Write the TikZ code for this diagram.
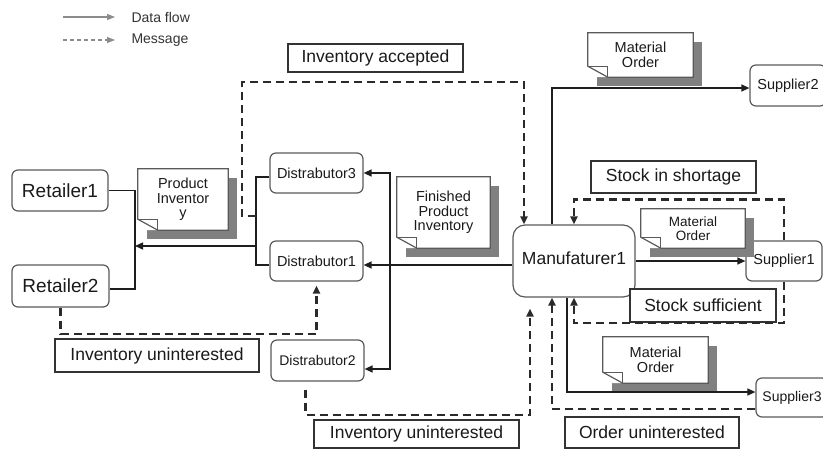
\documentclass[tikz,border=0pt]{standalone}
\usepackage{fontspec}
\setmainfont{Liberation Sans}
\usepackage{tikz}
\usetikzlibrary{shapes,arrows.meta,positioning,calc,shadows}

\definecolor{boxline}{HTML}{5A5A5A}
\definecolor{lblline}{HTML}{333333}
\definecolor{lineblk}{HTML}{1E1E1E}
\definecolor{dashcol}{HTML}{2A2A2A}
\definecolor{docshadow}{HTML}{808080}
\definecolor{txt}{HTML}{1A1A1A}
\definecolor{leggray}{HTML}{8C8C8C}

\newcommand{\fs}[1]{\fontsize{#1}{#1}\selectfont}

% folded corner of a document node
\newcommand{\docfold}[1]{%
  \fill[white] (#1.south west) -- ([yshift=11pt]#1.south west) -- ([xshift=20pt]#1.south west) -- cycle;
  \draw[docline] ([yshift=11pt]#1.south west) -- (#1.north west) -- (#1.north east)
    -- (#1.south east) -- ([xshift=20pt]#1.south west) -- cycle;
  \draw[docline] ([yshift=11pt]#1.south west) -- ([shift={(20pt,11pt)}]#1.south west)
    -- ([xshift=20pt]#1.south west);}

\tikzset{
  ent/.style={draw=boxline, line width=1.2pt, rounded corners=6pt, fill=white,
    inner sep=0pt, text=txt},
  lbl/.style={draw=lblline, line width=1.3pt, fill=white, inner sep=0pt,
    font=\fs{17.5}, text=txt},
  doc/.style={fill=white, inner sep=0pt, align=center, text=txt,
    drop shadow={shadow xshift=9pt, shadow yshift=-9pt, fill=docshadow, opacity=1}},
  docline/.style={draw=boxline, line width=1.2pt},
  link/.style={draw=lineblk, line width=1.3pt},
  flow/.style={link, -{Triangle[length=8pt,width=7pt]}},
  msg/.style={draw=dashcol, line width=2.2pt, dash pattern=on 8pt off 5pt,
    -{Triangle[length=8pt,width=7pt]}},
}

\begin{document}
\begin{tikzpicture}[x=1pt, y=-1pt]
    \useasboundingbox (0,0) rectangle (823,450);
    \clip (0,0) rectangle (823,450);

    % legend
    \coordinate (legA1) at (63,17);  \coordinate (legA2) at (115,17);
    \coordinate (legB1) at (63,40);  \coordinate (legB2) at (115,40);
    \draw[draw=leggray, line width=1.2pt, -{Triangle[length=8pt,width=6pt]}] (legA1) -- (legA2);
    \draw[draw=leggray, line width=1.2pt, dash pattern=on 4pt off 3pt,
      -{Triangle[length=8pt,width=6pt]}] (legB1) -- (legB2);
    \node[anchor=west, font=\fs{14}, text=lblline] (legflow) at (128,17) {Data flow};
    \node[anchor=west, font=\fs{14}, text=lblline] (legmsg) at (128,40) {Message};

    % entities
    \node[ent, minimum width=96pt, minimum height=41pt, font=\fs{19}] (ret1) at (60,190.5) {Retailer1};
    \node[ent, minimum width=97pt, minimum height=42pt, font=\fs{19}] (ret2) at (60.5,286) {Retailer2};
    \node[ent, minimum width=93pt, minimum height=40pt, font=\fs{14.5}] (dis3) at (316.5,173) {Distrabutor3};
    \node[ent, minimum width=93pt, minimum height=40pt, font=\fs{14.5}] (dis1) at (316.5,261) {Distrabutor1};
    \node[ent, minimum width=93pt, minimum height=41pt, font=\fs{14}] (dis2) at (317.5,360.5) {Distrabutor2};
    \node[ent, rounded corners=12pt, minimum width=122pt, minimum height=72pt, font=\fs{17.5}]
      (man) at (574,261) {\raisebox{6pt}{Manufaturer1}};
    \node[ent, minimum width=76pt, minimum height=41pt, font=\fs{14.5}] (sup2) at (788,85.5) {Supplier2};
    \node[ent, minimum width=76pt, minimum height=40pt, font=\fs{14.5}] (sup1) at (784,261) {Supplier1};
    \node[ent, minimum width=72pt, minimum height=39pt, font=\fs{14}] (sup3) at (792,397.5) {Supplier3};

    % documents
    \node[doc, minimum width=90pt, minimum height=61pt, font=\fs{14.5}] (pinv) at (183,199.5)
      {Product\\Inventor\\y};
    \docfold{pinv}
    \node[doc, minimum width=93pt, minimum height=71pt, font=\fs{14.5}] (finv) at (443.5,212.5)
      {Finished\\Product\\Inventory};
    \docfold{finv}
    \node[doc, minimum width=105pt, minimum height=44pt, font=\fs{14.5}] (mord1) at (640.5,55)
      {Material\\Order};
    \docfold{mord1}
    \node[doc, minimum width=104pt, minimum height=39pt, font=\fs{13.5}] (mord2) at (693,228.5)
      {Material\\Order};
    \docfold{mord2}
    \node[doc, minimum width=105pt, minimum height=46pt, font=\fs{14.5}] (mord3) at (655.5,360)
      {Material\\Order};
    \docfold{mord3}

    % message labels
    \node[lbl, minimum width=175pt, minimum height=28pt] (lacc) at (375.5,58) {Inventory accepted};
    \node[lbl, minimum width=165pt, minimum height=32pt] (lshort) at (673.5,177) {Stock in shortage};
    \node[lbl, minimum width=146pt, minimum height=33pt] (lsuff) at (703,305.5) {Stock sufficient};
    \node[lbl, minimum width=204pt, minimum height=33pt] (luninA) at (157,355.5) {Inventory uninterested};
    \node[lbl, minimum width=205pt, minimum height=28pt] (luninB) at (416.5,434) {Inventory uninterested};
    \node[lbl, minimum width=174pt, minimum height=31pt] (lorder) at (652,432.5) {Order uninterested};

    % data flow
    \coordinate (jret) at (135,246);
    \coordinate (jdis) at (256,246);
    \coordinate (jmid) at (390,265);
    \draw[link] (ret1.east) -| (jret) |- ([yshift=-3pt]ret2.east);
    \draw[flow] (jdis) -- (jret);
    \draw[link] ([yshift=-4pt]dis3.west) -| (jdis) |- ([yshift=-4pt]dis1.west);
    \draw[flow] (man.west |- jmid) -- (dis1.east |- jmid);
    \draw[flow] (jmid) |- (dis3.east);
    \draw[flow] (jmid) |- ([yshift=-8.5pt]dis2.east);
    \draw[flow] ([xshift=-22pt]man.north) |- ([yshift=-2.5pt]sup2.west);
    \draw[flow] (man.east) -- (sup1.west);
    \draw[flow] ([xshift=-7pt]man.south) |- ([yshift=5.5pt]sup3.west);

    % messages
    \coordinate (jacc) at (256,216);
    \draw[msg] (jacc) -- ++(-14,0) -- ++(0,-134) -| ([xshift=-50pt]man.north);
    \draw[msg] (sup1.north) -- ++(0,-41) -| (man.north);
    \draw[msg] (sup1.south) -- ++(0,41) -| (man.south);
    \draw[msg] ([yshift=-11.5pt]sup3.west) -| ([xshift=-22pt]man.south);
    \draw[msg] ([shift={(-12pt,-8pt)}]dis2.south) -- ++(0,25) -| ([shift={(-44pt,-11pt)}]man.south);
    \draw[msg] (ret2.south) -- ++(0,26) -| ([yshift=-4pt]dis1.south);
\end{tikzpicture}
\end{document}
